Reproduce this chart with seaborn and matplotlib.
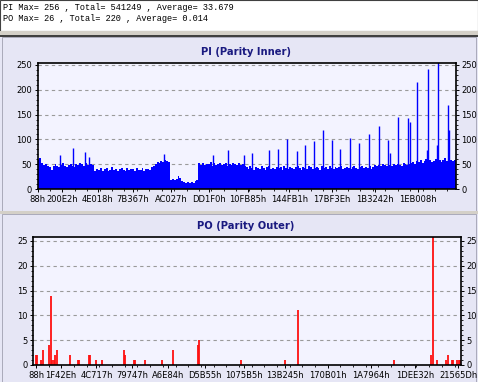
import numpy as np
import pandas as pd
import matplotlib
matplotlib.use('Agg')
import matplotlib.pyplot as plt
import matplotlib.patches as mpatches
from matplotlib.ticker import MultipleLocator, FixedLocator
import seaborn as sns

# ── data ─────────────────────────────────────────────────────
# PI: smoothed level per 10000-sector block, plus the tall single spikes
PI_STEP = 10000
PI_LEVEL = [
    58, 62, 52, 48, 50, 46, 44, 38, 46, 50, 47, 45, 49, 52, 47, 44, 49, 51, 46, 45,
    50, 48, 53, 50, 47, 52, 49, 54, 51, 48,
    36, 41, 38, 43, 37, 40, 42, 36, 39, 44, 38, 41, 37, 40, 43, 39, 36, 42, 38, 41,
    40, 37, 43, 39, 38, 42, 36, 40, 41, 38, 44, 47, 51,
    55, 53, 57, 54, 58, 56, 54,
    19, 21, 18, 20, 26, 22, 17, 15, 13, 14, 12, 15, 13, 16, 19,
    52, 49, 53, 48, 51, 50, 54, 47, 52, 49, 51, 53, 48, 50, 52, 47, 51, 49, 53, 50,
    48, 52, 49, 51, 47,
    44, 40, 46, 42, 39, 45, 43, 41, 47, 42, 38, 44, 46, 41, 43, 40, 45, 42, 44, 39,
    46, 43, 41, 45, 42, 40, 44, 47, 42, 39, 45, 43, 41, 46, 44, 40, 42, 45, 43, 39,
    46, 42, 44, 41, 47, 43, 40, 45, 42, 44, 46, 41, 43, 45, 42, 40, 44, 46, 43, 41,
    44, 47, 42, 45, 43, 46, 41, 44, 48, 47, 49, 46, 50, 48, 47, 51, 49, 46, 50, 48,
    51, 49, 47, 52, 50, 48, 51,
    52, 55, 50, 57, 54, 58, 53, 56, 60, 55, 58, 54, 57, 61, 56, 59, 55, 58, 62, 57,
    54, 59, 56, 58,
]
PI_SPIKE_POS = [119000, 188000, 251000, 272000, 669000, 928000, 1007000, 1091000,
                1134000, 1223000, 1271000, 1319000, 1371000, 1414000, 1461000,
                1509000, 1559000, 1601000, 1649000, 1697000, 1750000, 1803000,
                1850000, 1863000, 1904000, 1958000, 1968000, 2005000, 2058000,
                2063000, 2111000, 2116000, 2169000, 2174000]
PI_SPIKE_VAL = [68, 82, 74, 64, 70, 68, 79, 69, 72, 79, 80, 101, 76, 88, 96,
                118, 99, 81, 103, 93, 110, 128, 99, 72, 146, 143, 136, 216, 79,
                242, 89, 256, 169, 119]

PO_POS = [2600, 6700, 27000, 38000, 69000, 76000, 83000, 93000, 100000, 107000,
          178000, 216000, 223000, 276000, 280000, 309000, 340000, 456000, 461000,
          509000, 514000, 566000, 654000, 711000, 839000, 844000, 1060000, 1289000,
          1355000, 1853000, 2043000, 2057000, 2074000, 2123000, 2134000, 2152000,
          2160000, 2178000, 2191000, 2197000]
PO_VAL = [2, 2, 1, 3, 4, 14, 1, 1, 2, 3, 2, 1, 1, 2, 2, 1, 1, 3, 2, 1, 1, 1, 1, 3,
          4, 5, 1, 1, 11, 1, 2, 26, 1, 1, 2, 1, 1, 1, 1, 1]

PI_TICKS = ['88h', '200E2h', '4E018h', '7B367h', 'AC027h', 'DD1F0h', '10FB85h',
            '144FB1h', '17BF3Eh', '1B3242h', '1EB008h']
PO_TICKS = ['88h', '1F42Eh', '4C717h', '79747h', 'A6E84h', 'D5B55h', '1075B5h',
            '13B245h', '170B01h', '1A7964h', '1DEE32h', '21565Dh']

HEADER = ['PI Max= 256 , Total= 541249 , Average= 33.679',
          'PO Max= 26 , Total= 220 , Average= 0.014']

# ── style ────────────────────────────────────────────────────
sns.set_theme(style='white')
plt.rcParams.update({
    'font.family': ['DejaVu Sans'],
    'font.size': 6.0,
    'axes.edgecolor': '#000000',
    'axes.linewidth': 1.2,
    'xtick.color': '#000000',
    'ytick.color': '#000000',
    'xtick.direction': 'out',
    'ytick.direction': 'out',
})

PANEL = '#E6E6F5'
PLOTBG = '#F3F3FF'
NAVY = '#1A1A80'
BLUE = '#0000FF'
RED = '#FF1010'

W, H = 478, 382
fig = plt.figure(figsize=(W / 100, H / 100), dpi=100, facecolor=PANEL)


def box(x0, y0, x1, y1, fc, ec='none', lw=0.0):
    fig.patches.append(mpatches.Rectangle(
        (x0 / W, 1 - y1 / H), (x1 - x0) / W, (y1 - y0) / H,
        transform=fig.transFigure, facecolor=fc, edgecolor=ec, linewidth=lw,
        zorder=-10))


# window chrome
box(0, 0, 478, 31, 'white', '#404040', 0.8)
box(0, 31, 478, 36, '#D4D0C8')
box(0, 35.5, 478, 37, '#404040')
box(2, 37, 476, 211, PANEL, '#A0A0B0', 0.6)
box(0, 211, 478, 214, '#D4D0C8')
box(2, 214, 476, 382, PANEL, '#A0A0B0', 0.6)

for i, line in enumerate(HEADER):
    fig.text(3 / W, 1 - (7 + 11.5 * i) / H, line, family='Liberation Mono',
             fontsize=6.2, va='center', ha='left', color='black')


def style_axes(ax, ymax, ymaj, ymin, ticks, xmin, xmax):
    ax.set_facecolor(PLOTBG)
    ax.set_xlim(xmin, xmax)
    ax.set_ylim(0, ymax)
    pos = [int(t[:-1], 16) for t in ticks]
    ax.xaxis.set_major_locator(FixedLocator(pos))
    ax.set_xticklabels(ticks)
    ax.xaxis.set_minor_locator(MultipleLocator(65649))
    ax.yaxis.set_major_locator(MultipleLocator(ymaj))
    ax.yaxis.set_minor_locator(MultipleLocator(ymin))
    ax.tick_params(axis='both', which='major', length=2.5, width=0.7,
                   labelsize=6.0, pad=1.5)
    ax.tick_params(axis='both', which='minor', length=1.5, width=0.6)
    ax.tick_params(axis='y', which='both', left=True, right=True,
                   labelleft=True, labelright=True)
    ax.tick_params(axis='x', which='both', bottom=True)
    ax.set_axisbelow(True)
    ax.yaxis.grid(True, linestyle=(0, (3, 3)), color='#9A9A9A', linewidth=0.8)
    ax.xaxis.grid(False)
    ax.set_xlabel('')
    ax.set_ylabel('')
    for s in ax.spines.values():
        s.set_visible(True)
        s.set_color('black')


# ── PI panel ─────────────────────────────────────────────────
ax1 = fig.add_axes([37.5 / W, 1 - 189 / H, 418.5 / W, 126 / H])
n_pi = len(PI_LEVEL)
pi_df = pd.DataFrame({'pos': np.arange(n_pi) * PI_STEP + PI_STEP / 2,
                      'level': np.array(PI_LEVEL, dtype=float)})
sns.histplot(data=pi_df, x='pos', weights='level', binwidth=PI_STEP,
             binrange=(0, n_pi * PI_STEP), element='step', fill=True,
             color=BLUE, alpha=1, linewidth=0, ax=ax1)
ax1.vlines(PI_SPIKE_POS, 0, PI_SPIKE_VAL, color=BLUE, linewidth=1.0)
style_axes(ax1, 254, 50, 10, PI_TICKS, 0, 2211700)
fig.text(246 / W, 1 - 52 / H, 'PI (Parity Inner)', ha='center', va='center',
         fontsize=7.2, fontweight='bold', color=NAVY)

# ── PO panel ─────────────────────────────────────────────────
ax2 = fig.add_axes([33 / W, 1 - 365 / H, 428 / W, 128 / H])
ax2.vlines(PO_POS, 0, PO_VAL, color=RED, linewidth=1.3)
style_axes(ax2, 25.8, 5, 1, PO_TICKS, -15500, 2200000)
fig.text(246 / W, 1 - 226 / H, 'PO (Parity Outer)', ha='center', va='center',
         fontsize=7.2, fontweight='bold', color=NAVY)

plt.savefig('out.png', dpi=100, facecolor=PANEL)
